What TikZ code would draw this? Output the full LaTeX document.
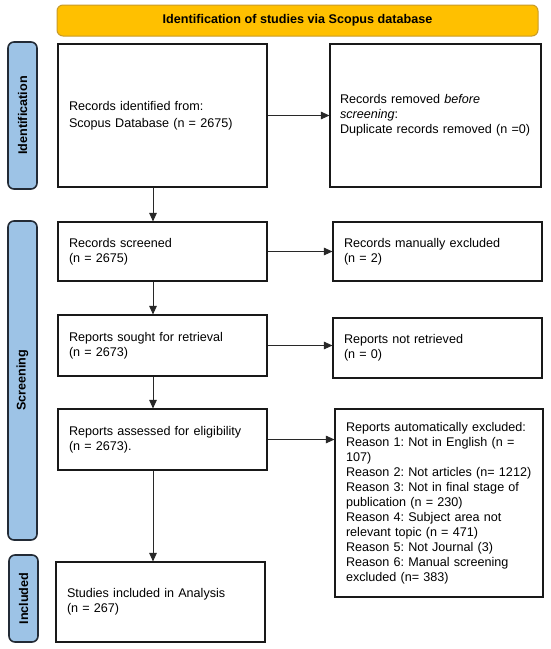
\documentclass[tikz,border=0pt]{standalone}
\usepackage{fontspec}
\setmainfont{Liberation Sans}
\usetikzlibrary{arrows.meta}
\frenchspacing
\definecolor{hdrfill}{RGB}{255,192,0}
\definecolor{hdrdraw}{RGB}{200,155,40}
\definecolor{lblfill}{RGB}{157,195,230}
\definecolor{lbldraw}{RGB}{35,43,54}
\definecolor{boxdraw}{RGB}{25,25,25}
\definecolor{arrowcol}{RGB}{40,40,40}
\tikzset{
  txt/.style={font=\fontsize{12.6}{15}\selectfont\frenchspacing},
  box/.style={txt, draw=boxdraw, line width=1.1pt, fill=white, align=left,
    inner xsep=11pt, inner ysep=0pt, text width={#1pt-22pt}, minimum width=#1, anchor=center},
  header/.style={draw=hdrdraw, fill=hdrfill, line width=1pt, rounded corners=6pt,
    font=\fontsize{12.6}{15}\selectfont\bfseries, minimum width=481, minimum height=31, inner sep=0pt},
  sidelbl/.style={draw=lbldraw, fill=lblfill, line width=1.6pt, rounded corners=6pt,
    font=\fontsize{12.6}{15}\selectfont\bfseries, rotate=90, inner sep=0pt},
  flow/.style={draw=arrowcol, line width=0.9pt, -{Triangle[length=8.5pt,width=7.5pt]}}
}
\begin{document}
\begin{tikzpicture}[x=1pt,y=-1pt]
\useasboundingbox (0,0) rectangle (550,649);
\fill[white] (0,0) rectangle (550,649);

\node[header] (hdr) at (297.5,20.5) {Identification of studies via Scopus database};

\node[sidelbl, minimum width=147, minimum height=29] (lid) at (22.5,115.5) {Identification};
\node[sidelbl, minimum width=319, minimum height=29] (lsc) at (22.5,380.5) {Screening};
\node[sidelbl, minimum width=87, minimum height=29] (lin) at (23.5,598.5) {Included};

\node[box=209, minimum height=143] (b1) at (162.5,115.5) {Records identified from:\\[2.5pt]Scopus Database (n = 2675)};
\node[box=211, minimum height=143, inner xsep=10pt, text width=191pt] (b2) at (435.5,115.5) {Records removed \textit{before}\\\textit{screening}:\\Duplicate records removed (n =0)};

\node[box=209, minimum height=59] (b3) at (162.5,251.5) {Records screened\\(n = 2675)};
\node[box=209, minimum height=59] (b4) at (437.5,251.5) {Records manually excluded\\(n = 2)};

\node[box=209, minimum height=61] (b5) at (162.5,345.5) {Reports sought for retrieval\\(n = 2673)};
\node[box=209, minimum height=60] (b6) at (437.5,348) {Reports not retrieved\\(n = 0)};

\node[box=209, minimum height=61] (b7) at (162.5,439.5) {Reports assessed for eligibility\\(n = 2673).};
\node[box=208, minimum height=188] (b8) at (439,503) {Reports automatically excluded:\\Reason 1: Not in English (n =\\107)\\Reason 2: Not articles (n= 1212)\\Reason 3: Not in final stage of\\publication (n = 230)\\Reason 4: Subject area not\\relevant topic (n = 471)\\Reason 5: Not Journal (3)\\Reason 6: Manual screening\\excluded (n= 383)};

\node[box=209, minimum height=80] (b9) at (160.5,602) {Studies included in Analysis\\(n = 267)};

\coordinate (ax) at (153,0);
\draw[flow] (b1.east) -- (b2.west);
\draw[flow] (b3.east) -- (b4.west);
\draw[flow] (b5.east) -- (b5.east -| b6.west);
\draw[flow] (b7.east) -- (b7.east -| b8.west);
\draw[flow] (b1.south -| ax) -- (b3.north -| ax);
\draw[flow] (b3.south -| ax) -- (b5.north -| ax);
\draw[flow] (b5.south -| ax) -- (b7.north -| ax);
\draw[flow] (b7.south -| ax) -- (b9.north -| ax);
\end{tikzpicture}
\end{document}
